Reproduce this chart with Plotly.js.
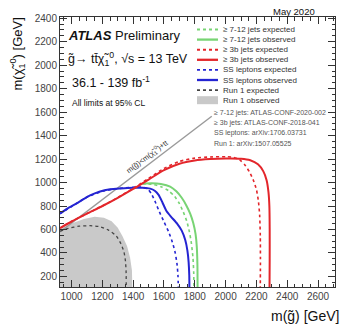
<!DOCTYPE html>
<html><head><meta charset="utf-8">
<script src="https://cdn.plot.ly/plotly-3.0.1.min.js"></script>
<style>html,body{margin:0;padding:0;background:#fff}#chart{width:343px;height:325px}</style>
</head><body><div id="chart"></div>
<script>
// ---------------- data (GeV) ----------------
const jets3bObsX = [925, 1000, 1100, 1200, 1300, 1400, 1500, 1600, 1700, 1800, 1900, 2000, 2100, 2160, 2210, 2245, 2266, 2278, 2284, 2286, 2286, 2285];
const jets3bObsY = [612, 668, 735, 800, 870, 945, 1025, 1105, 1160, 1188, 1200, 1205, 1203, 1190, 1155, 1095, 1020, 920, 800, 600, 350, 100];
const jets3bExpX = [925, 1000, 1100, 1200, 1300, 1400, 1500, 1600, 1700, 1800, 1900, 2000, 2050, 2090, 2125, 2155, 2180, 2200, 2213, 2221, 2225, 2226, 2225];
const jets3bExpY = [612, 668, 735, 800, 872, 950, 1035, 1120, 1180, 1208, 1218, 1220, 1215, 1195, 1150, 1090, 1020, 940, 840, 720, 550, 350, 100];
const jets712ObsX = [1460, 1520, 1580, 1640, 1680, 1715, 1745, 1770, 1790, 1805, 1813, 1817, 1818];
const jets712ObsY = [990, 993, 987, 965, 925, 870, 805, 735, 655, 560, 450, 300, 100];
const jets712ExpX = [1460, 1520, 1580, 1630, 1670, 1700, 1725, 1748, 1765, 1778, 1788, 1793, 1794];
const jets712ExpY = [990, 985, 965, 930, 880, 820, 750, 670, 580, 480, 360, 230, 100];
const ssObsX = [925, 970, 1030, 1080, 1120, 1180, 1250, 1320, 1400, 1460, 1510, 1540, 1565, 1590, 1615, 1645, 1685, 1715, 1738, 1752, 1760, 1764, 1765];
const ssObsY = [735, 775, 820, 860, 890, 922, 943, 950, 955, 955, 948, 930, 895, 830, 760, 710, 650, 590, 510, 420, 320, 210, 100];
const ssExpX = [925, 1000, 1100, 1200, 1300, 1400, 1460, 1495, 1520, 1545, 1570, 1600, 1630, 1655, 1673, 1685, 1691, 1693];
const ssExpY = [735, 795, 875, 925, 948, 960, 960, 945, 900, 830, 750, 665, 580, 490, 400, 300, 200, 100];
const run1ObsX = [925, 1000, 1080, 1150, 1210, 1260, 1300, 1330, 1360, 1380, 1392, 1396, 1396, 925];
const run1ObsY = [605, 650, 690, 708, 700, 670, 615, 545, 460, 360, 250, 150, 0, 0];
const run1ExpX = [925, 980, 1050, 1120, 1180, 1240, 1290, 1320, 1340, 1350, 1354, 1355];
const run1ExpY = [585, 610, 628, 632, 625, 595, 545, 480, 410, 330, 240, 100];
const kinLimitX = [925, 1910];
const kinLimitY = [579, 1564];

const legendLabels = ["≥ 7-12 jets expected", "≥ 7-12 jets observed", "≥ 3b jets expected", "≥ 3b jets observed",
  "SS leptons expected", "SS leptons observed", "Run 1 expected", "Run 1 observed"];
const refLabels = ["≥ 7-12 jets: ATLAS-CONF-2020-002", "≥ 3b jets: ATLAS-CONF-2018-041",
  "SS leptons: arXiv:1706.03731", "Run 1: arXiv:1507.05525"];
const xTickVals = [1000, 1200, 1400, 1600, 1800, 2000, 2200, 2400, 2600];
const yTickVals = [200, 400, 600, 800, 1000, 1200, 1400, 1600, 1800, 2000, 2200, 2400];

// ---------------- styles ----------------
const RED = '#e3262b', GREEN = '#78d474', BLUE = '#2424d2', GRAY = '#c9c9c9', DARK = '#333333';
const FONT = 'Liberation Sans, Arial, Helvetica, sans-serif';
const W = 343, H = 325, M = {l: 60, r: 8, t: 17, b: 38};
const pw = W - M.l - M.r, ph = H - M.t - M.b;
const PX = p => (p - M.l) / pw, PY = p => 1 - (p - M.t) / ph;

const series = [
  {x: jets712ExpX, y: jets712ExpY, color: GREEN, dash: 'dot', width: 1.6},
  {x: jets712ObsX, y: jets712ObsY, color: GREEN, dash: 'solid', width: 2},
  {x: jets3bExpX, y: jets3bExpY, color: RED, dash: 'dot', width: 1.6},
  {x: jets3bObsX, y: jets3bObsY, color: RED, dash: 'solid', width: 2},
  {x: ssExpX, y: ssExpY, color: BLUE, dash: 'dot', width: 1.6},
  {x: ssObsX, y: ssObsY, color: BLUE, dash: 'solid', width: 2},
  {x: run1ExpX, y: run1ExpY, color: '#444', dash: 'dot', width: 1.3},
  {x: run1ObsX, y: run1ObsY, color: GRAY, fill: true}
];

const traces = [];
traces.push({x: run1ObsX, y: run1ObsY, type: 'scatter', mode: 'lines', fill: 'toself',
  fillcolor: GRAY, line: {width: 0, color: GRAY}, hoverinfo: 'skip', showlegend: false});
traces.push({x: kinLimitX, y: kinLimitY, type: 'scatter', mode: 'lines',
  line: {color: '#9a9a9a', width: 1.4}, hoverinfo: 'skip', showlegend: false});
const drawOrder = [6, 4, 5, 0, 1, 2, 3];
drawOrder.forEach(i => {
  const s = series[i];
  traces.push({x: s.x, y: s.y, type: 'scatter', mode: 'lines', line: {color: s.color, width: s.width, dash: s.dash, shape: 'spline', smoothing: 0.6},
    hoverinfo: 'skip', showlegend: false});
});

// ---------------- legend (manual) ----------------
const shapes = [], annotations = [];
const legY0 = 29.5, legDY = 10.1, lx0 = 197, lx1 = 218, tx = 222;
series.forEach((s, i) => {
  const yy = legY0 + i * legDY;
  if (s.fill) {
    shapes.push({type: 'rect', xref: 'paper', yref: 'paper', x0: PX(lx0), x1: PX(lx1), y0: PY(yy + 4), y1: PY(yy - 4),
      fillcolor: GRAY, line: {width: 0}});
  } else {
    shapes.push({type: 'line', xref: 'paper', yref: 'paper', x0: PX(lx0), x1: PX(lx1), y0: PY(yy), y1: PY(yy),
      line: {color: s.color, width: s.width + 0.3, dash: s.dash}});
  }
  annotations.push({xref: 'paper', yref: 'paper', x: PX(tx), y: PY(yy), xanchor: 'left', yanchor: 'middle',
    text: legendLabels[i], showarrow: false, font: {family: FONT, size: 8, color: DARK}, borderpad: 0});
});
refLabels.forEach((t, i) => {
  annotations.push({xref: 'paper', yref: 'paper', x: PX(213), y: PY(113 + i * 10.2), xanchor: 'left', yanchor: 'middle',
    text: t, showarrow: false, font: {family: FONT, size: 7, color: '#555'}, borderpad: 0});
});

function txt(x, y, text, size, opts) {
  annotations.push(Object.assign({xref: 'paper', yref: 'paper', x: PX(x), y: PY(y), xanchor: 'left', yanchor: 'middle',
    text: text, showarrow: false, font: {family: FONT, size: size, color: '#111'}, borderpad: 0}, opts || {}));
}
txt(67, 35, '<b><i>ATLAS</i></b>', 13);
txt(114, 35, 'Preliminary', 13);
txt(67, 59, 'g̃→ tt̄χ̃<sub>1</sub><sup>0</sup>, √s = 13 TeV', 12.5);
txt(71, 82, '36.1 - 139 fb<sup>-1</sup>', 12.5);
txt(71, 103, 'All limits at 95% CL', 8.5);
txt(294, 11, 'May 2020', 9.5, {xanchor: 'center'});
txt(17, 17, 'm(χ̃<sub>1</sub><sup>0</sup>) [GeV]', 13, {xanchor: 'center', yanchor: 'top', textangle: -90});
txt(340, 316, 'm(g̃) [GeV]', 14, {xanchor: 'right'});
annotations.push({xref: 'x', yref: 'y', x: 1490, y: 1225, text: 'm(g̃)<m(χ̃<sub>1</sub><sup>0</sup>)+tt', showarrow: false,
  textangle: -37, font: {family: FONT, size: 7.5, color: '#333'}, borderpad: 0});

const axisCommon = {
  ticks: 'inside', ticklen: 7, tickwidth: 1, tickcolor: DARK, mirror: 'ticks', showline: true, linecolor: DARK, linewidth: 1,
  showgrid: false, zeroline: false, tickfont: {family: FONT, size: 10, color: '#444'},
  minor: {ticks: 'inside', ticklen: 3.5, tickcolor: DARK, dtick: 50, showgrid: false}
};
const layout = {
  width: W, height: H, margin: M, paper_bgcolor: '#fff', plot_bgcolor: '#fff', showlegend: false,
  xaxis: Object.assign({}, axisCommon, {range: [925, 2710], tickmode: 'array', tickvals: xTickVals, ticktext: xTickVals.map(String)}),
  yaxis: Object.assign({}, axisCommon, {range: [110, 2410], tickmode: 'array', tickvals: yTickVals, ticktext: yTickVals.map(String)}),
  shapes: shapes, annotations: annotations
};
Plotly.newPlot('chart', traces, layout, {staticPlot: true, displayModeBar: false});
</script></body></html>
